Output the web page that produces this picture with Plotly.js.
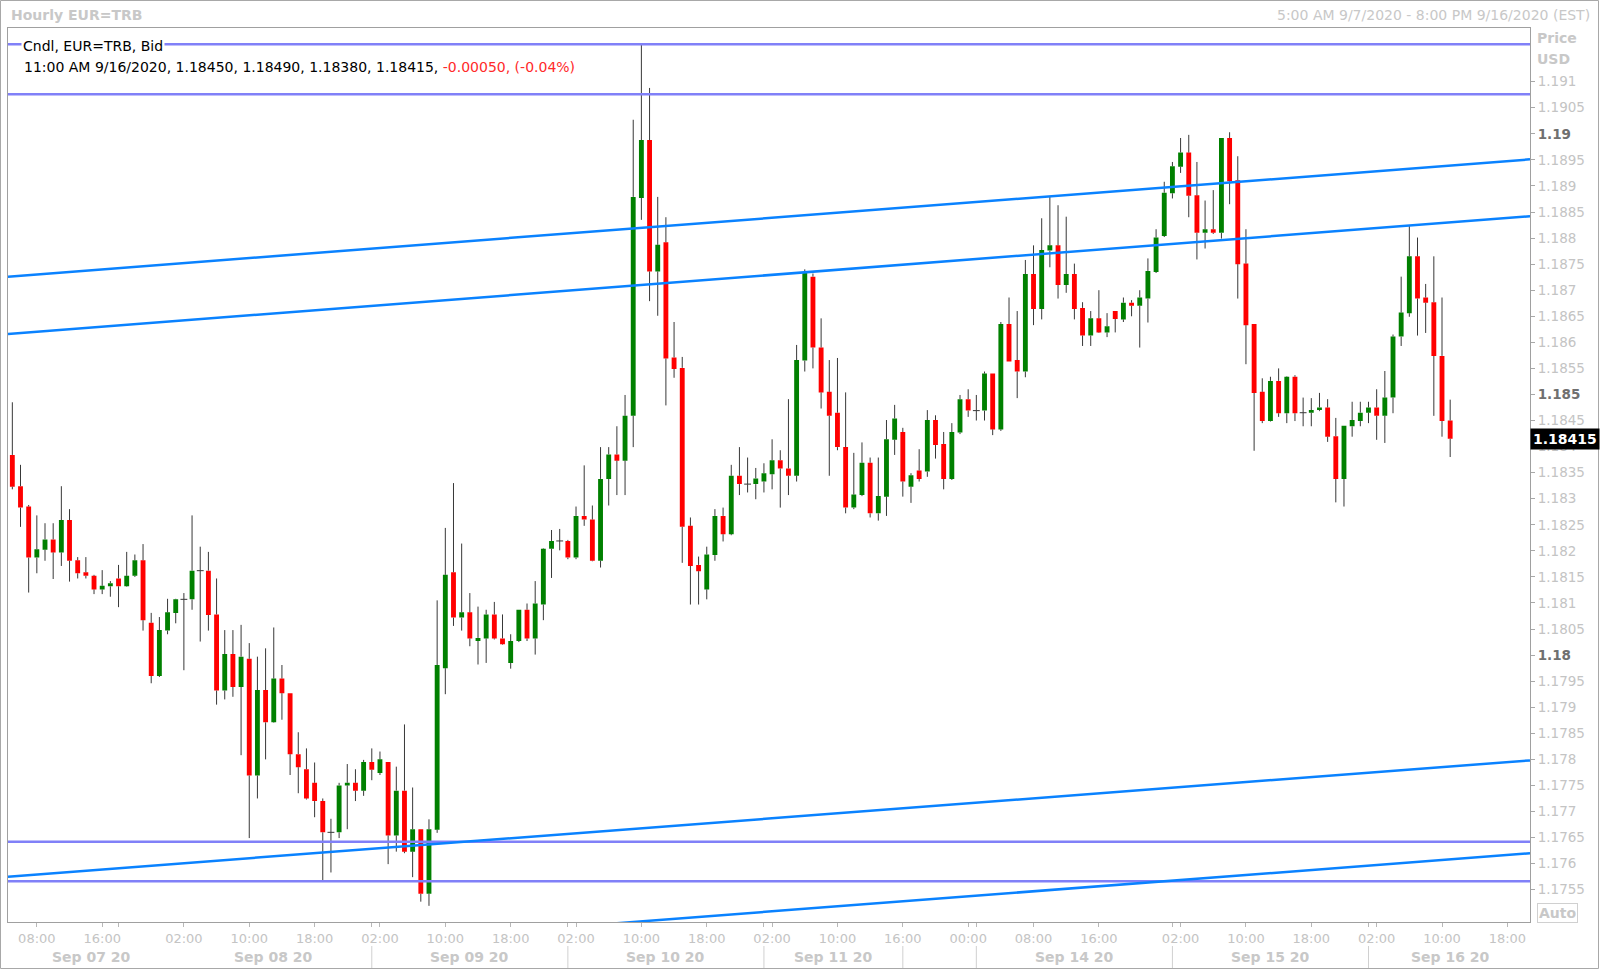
<!DOCTYPE html>
<html>
<head>
<meta charset="utf-8">
<script src="https://cdn.plot.ly/plotly-3.0.1.min.js"></script>
<style>
  html, body { margin: 0; padding: 0; background: #ffffff; }
  #chart { width: 1600px; height: 970px; }
</style>
</head>
<body>
<div id="chart"></div>
<script>
// ---------------- DATA (hourly candles from 5:00 AM 9/7/2020, EST) ----------------
const openP = [
1.18384,1.18324,1.18285,1.18187,1.18202,1.18222,1.18197,1.18259,1.18182,1.18159,
1.18152,1.18126,1.18132,1.18147,1.18132,1.18152,1.18182,1.18062,1.17960,1.18047,
1.18081,1.18107,1.18107,1.18162,1.18162,1.18078,1.17932,1.18002,1.17939,1.17993,
1.17769,1.17933,1.17871,1.17955,1.17927,1.17810,1.17781,1.17755,1.17720,1.17660,
1.17660,1.17750,1.17755,1.17740,1.17795,1.17774,1.17795,1.17654,1.17740,1.17623,
1.17666,1.17542,1.17665,1.17975,1.18159,1.18072,1.18082,1.18027,1.18032,1.18078,
1.18032,1.17985,1.18027,1.18087,1.18032,1.18097,1.18204,1.18219,1.18219,1.18187,
1.18267,1.18260,1.18181,1.18338,1.18385,1.18373,1.18459,1.18877,1.18988,1.18736,
1.18792,1.18571,1.18551,1.18248,1.18173,1.18126,1.18192,1.18267,1.18232,1.18344,
1.18328,1.18328,1.18333,1.18347,1.18374,1.18358,1.18344,1.18565,1.18726,1.18590,
1.18505,1.18465,1.18399,1.18283,1.18307,1.18369,1.18272,1.18304,1.18413,1.18428,
1.18323,1.18354,1.18352,1.18451,1.18405,1.18338,1.18427,1.18491,1.18469,1.18469,
1.18540,1.18433,1.18635,1.18566,1.18544,1.18731,1.18664,1.18776,1.18786,1.18710,
1.18731,1.18666,1.18613,1.18646,1.18619,1.18660,1.18644,1.18676,1.18670,1.18684,
1.18735,1.18804,1.18886,1.18937,1.18964,1.18882,1.18810,1.18817,1.18810,1.18992,
1.18911,1.18751,1.18635,1.18505,1.18449,1.18526,1.18464,1.18534,1.18465,1.18465,
1.18470,1.18475,1.18420,1.18338,1.18439,1.18449,1.18465,1.18475,1.18459,1.18494,
1.18611,1.18656,1.18765,1.18686,1.18677,1.18574,1.18450];
const highP = [
1.18485,1.18365,1.18288,1.18268,1.18253,1.18253,1.18324,1.18280,1.18188,1.18188,
1.18154,1.18163,1.18142,1.18173,1.18198,1.18193,1.18213,1.18081,1.18073,1.18108,
1.18108,1.18119,1.18268,1.18208,1.18198,1.18147,1.18048,1.18048,1.18058,1.18023,
1.17997,1.18013,1.18053,1.17981,1.17927,1.17852,1.17821,1.17794,1.17725,1.17686,
1.17755,1.17791,1.17781,1.17799,1.17821,1.17815,1.17795,1.17786,1.17867,1.17746,
1.17666,1.17685,1.18105,1.18244,1.18330,1.18214,1.18119,1.18093,1.18087,1.18102,
1.18078,1.18040,1.18087,1.18099,1.18142,1.18205,1.18240,1.18242,1.18221,1.18285,
1.18364,1.18287,1.18399,1.18399,1.18439,1.18499,1.19027,1.19172,1.19088,1.18879,
1.18840,1.18639,1.18572,1.18264,1.18189,1.18208,1.18280,1.18283,1.18365,1.18399,
1.18379,1.18359,1.18368,1.18414,1.18393,1.18491,1.18595,1.18740,1.18732,1.18646,
1.18566,1.18570,1.18504,1.18388,1.18408,1.18379,1.18379,1.18451,1.18480,1.18436,
1.18349,1.18395,1.18470,1.18460,1.18428,1.18445,1.18499,1.18510,1.18499,1.18544,
1.18540,1.18639,1.18686,1.18660,1.18758,1.18786,1.18838,1.18879,1.18863,1.18841,
1.18751,1.18677,1.18660,1.18700,1.18656,1.18660,1.18686,1.18681,1.18700,1.18761,
1.18817,1.18908,1.18946,1.18992,1.18998,1.18946,1.18872,1.18892,1.18992,1.19003,
1.18957,1.18817,1.18635,1.18531,1.18534,1.18550,1.18535,1.18537,1.18494,1.18493,
1.18503,1.18491,1.18455,1.18440,1.18486,1.18486,1.18486,1.18510,1.18545,1.18615,
1.18726,1.18823,1.18801,1.18712,1.18765,1.18686,1.18490];
const lowP = [
1.18318,1.18246,1.18120,1.18157,1.18181,1.18146,1.18171,1.18141,1.18147,1.18147,
1.18117,1.18117,1.18112,1.18092,1.18131,1.18150,1.18047,1.17946,1.17958,1.18040,
1.18061,1.17971,1.18087,1.18026,1.18047,1.17905,1.17915,1.17920,1.17808,1.17649,
1.17725,1.17800,1.17870,1.17876,1.17770,1.17735,1.17723,1.17689,1.17567,1.17583,
1.17649,1.17666,1.17720,1.17730,1.17760,1.17770,1.17599,1.17623,1.17620,1.17574,
1.17527,1.17519,1.17659,1.17925,1.18056,1.18047,1.18017,1.17982,1.17985,1.18030,
1.18020,1.17974,1.18025,1.18027,1.18001,1.18067,1.18148,1.18201,1.18184,1.18184,
1.18248,1.18180,1.18168,1.18287,1.18307,1.18307,1.18399,1.18835,1.18679,1.18651,
1.18479,1.18532,1.18177,1.18097,1.18097,1.18107,1.18181,1.18218,1.18230,1.18307,
1.18312,1.18299,1.18312,1.18318,1.18283,1.18307,1.18333,1.18544,1.18550,1.18473,
1.18344,1.18393,1.18272,1.18280,1.18305,1.18264,1.18258,1.18267,1.18384,1.18304,
1.18292,1.18333,1.18342,1.18377,1.18318,1.18336,1.18424,1.18457,1.18450,1.18450,
1.18422,1.18430,1.18563,1.18493,1.18533,1.18633,1.18644,1.18744,1.18684,1.18695,
1.18644,1.18593,1.18593,1.18618,1.18610,1.18619,1.18639,1.18650,1.18590,1.18638,
1.18733,1.18802,1.18876,1.18925,1.18840,1.18759,1.18780,1.18808,1.18799,1.18865,
1.18684,1.18558,1.18392,1.18445,1.18448,1.18457,1.18445,1.18449,1.18439,1.18439,
1.18468,1.18409,1.18293,1.18285,1.18419,1.18439,1.18445,1.18413,1.18407,1.18464,
1.18593,1.18649,1.18613,1.18618,1.18459,1.18419,1.18380];
const closeP = [
1.18323,1.18283,1.18187,1.18203,1.18222,1.18197,1.18259,1.18181,1.18157,1.18152,
1.18126,1.18133,1.18138,1.18132,1.18152,1.18182,1.18067,1.17960,1.18048,1.18082,
1.18107,1.18107,1.18162,1.18162,1.18077,1.17932,1.18002,1.17939,1.17997,1.17769,
1.17933,1.17871,1.17955,1.17927,1.17810,1.17785,1.17725,1.17720,1.17660,1.17660,
1.17750,1.17755,1.17740,1.17795,1.17780,1.17800,1.17654,1.17740,1.17623,1.17666,
1.17542,1.17666,1.17981,1.18154,1.18072,1.18082,1.18032,1.18033,1.18078,1.18032,
1.18021,1.18027,1.18087,1.18032,1.18099,1.18204,1.18219,1.18219,1.18187,1.18267,
1.18260,1.18181,1.18338,1.18385,1.18373,1.18459,1.18879,1.18988,1.18736,1.18787,
1.18569,1.18549,1.18246,1.18171,1.18161,1.18193,1.18267,1.18232,1.18344,1.18328,
1.18328,1.18339,1.18349,1.18374,1.18358,1.18344,1.18566,1.18733,1.18590,1.18504,
1.18459,1.18399,1.18283,1.18308,1.18369,1.18272,1.18305,1.18414,1.18454,1.18333,
1.18345,1.18338,1.18451,1.18403,1.18338,1.18428,1.18491,1.18469,1.18469,1.18540,
1.18433,1.18635,1.18563,1.18544,1.18731,1.18664,1.18777,1.18786,1.18710,1.18731,
1.18664,1.18613,1.18646,1.18619,1.18631,1.18645,1.18676,1.18670,1.18686,1.18737,
1.18801,1.18887,1.18938,1.18964,1.18881,1.18810,1.18817,1.18810,1.18992,1.18909,
1.18750,1.18633,1.18503,1.18449,1.18526,1.18464,1.18534,1.18464,1.18465,1.18470,
1.18475,1.18419,1.18338,1.18440,1.18451,1.18465,1.18475,1.18459,1.18494,1.18611,
1.18657,1.18765,1.18684,1.18676,1.18574,1.18449,1.18415];

// horizontal levels and trend channels (drawing objects)
const hLevels = [1.19172, 1.19076, 1.17642, 1.17566];
const trendX0 = [-0.53, -0.53, -0.53, -0.53];
const trendY0 = [1.18726, 1.18616, 1.17575, 1.17396];
const trendX1 = [185.77, 185.77, 185.77, 185.77];
const trendY1 = [1.18951, 1.18842, 1.17798, 1.17620];

// axis labels
const timeTickIdx = [3,11,21,29,37,45,53,61,69,77,85,93,101,109,117,125,133,143,151,159,167,175,183];
const timeTickText = ['08:00','16:00','02:00','10:00','18:00','02:00','10:00','18:00','02:00','10:00','18:00',
  '02:00','10:00','16:00','00:00','08:00','16:00','02:00','10:00','18:00','02:00','10:00','18:00'];
const extraTickIdx = [13,44,68,92,109,118,142,166];
const daySeparators = [44,68,92,109,118,142,166];
const dateLabels = ['Sep 07 20','Sep 08 20','Sep 09 20','Sep 10 20','Sep 11 20','Sep 14 20','Sep 15 20','Sep 16 20'];
const dateLabelPos = [9.7,32,56,80,100.5,130,154,176];
const priceTicks = [];
for (let k = 0; k <= 31; k++) priceTicks.push(+(1.1755 + k*0.0005).toFixed(4));
const boldPriceTicks = [1.18, 1.185, 1.19];

const lastBar = {time:'11:00 AM 9/16/2020', o:'1.18450', h:'1.18490', l:'1.18380', c:'1.18415', chg:'-0.00050', pct:'(-0.04%)'};

// ---------------- LAYOUT HELPERS ----------------
const W = 1600, H = 970;
const M = {l:8, r:70, t:28, b:48};
const PW = W - M.l - M.r, PH = H - M.t - M.b;
const px = x => (x - M.l) / PW;        // pixel -> paper x
const py = y => (H - M.b - y) / PH;    // pixel -> paper y
const FONT = 'DejaVu Sans, Verdana, sans-serif';
const LIGHT = '#c4c4c4';

// candle x positions (hour slot index)
const xs = openP.map((_, i) => i);

// wick segments (outside the bodies) + doji ticks
const wx = [], wy = [];
for (let i = 0; i < xs.length; i++) {
  const top = Math.max(openP[i], closeP[i]);
  const bot = Math.min(openP[i], closeP[i]);
  if (highP[i] > top) { wx.push(i, i, null); wy.push(highP[i], top, null); }
  if (lowP[i] < bot)  { wx.push(i, i, null); wy.push(bot, lowP[i], null); }
  if (openP[i] === closeP[i]) { wx.push(i - 0.42, i + 0.42, null); wy.push(openP[i], openP[i], null); }
}

const traces = [
  {
    type: 'candlestick', x: xs, open: openP, high: highP, low: lowP, close: closeP,
    increasing: {line: {color: '#008000', width: 0}, fillcolor: '#008000'},
    decreasing: {line: {color: '#ff0000', width: 0}, fillcolor: '#ff0000'},
    hoverinfo: 'skip', showlegend: false
  },
  {
    type: 'scatter', mode: 'lines', x: wx, y: wy,
    line: {color: '#383838', width: 1}, hoverinfo: 'skip', showlegend: false, connectgaps: false
  }
];

const shapes = [];
// outer frame
shapes.push({type:'rect', xref:'paper', yref:'paper', x0:px(0.5), x1:px(W-1.5), y0:py(0.5), y1:py(H-1.5),
  line:{color:'#a8a8a8', width:1}, layer:'below'});
// horizontal levels
hLevels.forEach(v => shapes.push({type:'line', xref:'paper', yref:'y', x0:0, x1:1, y0:v, y1:v,
  line:{color:'#8080f8', width:2.5}, layer:'above'}));
// trend channels
for (let k = 0; k < trendY0.length; k++) {
  shapes.push({type:'line', xref:'x', yref:'y', x0:trendX0[k], y0:trendY0[k], x1:trendX1[k], y1:trendY1[k],
    line:{color:'#0a82ff', width:2.5}, layer:'above'});
}
// day separators in the date row
daySeparators.forEach(v => shapes.push({type:'line', xref:'x', yref:'paper', x0:v, x1:v, y0:py(946), y1:py(968),
  line:{color:'#d0d0d0', width:1}}));

const annotations = [];
annotations.push({xref:'paper', yref:'paper', x:px(9), y:py(15), xanchor:'left', yanchor:'middle', showarrow:false,
  text:'<b>Hourly EUR=TRB</b>', font:{family:FONT, size:14, color:'#c8c8c8'}});
annotations.push({xref:'paper', yref:'paper', x:px(1592), y:py(15), xanchor:'right', yanchor:'middle', showarrow:false,
  text:'5:00 AM 9/7/2020 - 8:00 PM 9/16/2020 (EST)', font:{family:FONT, size:14, color:'#c8c8c8'}});
annotations.push({xref:'paper', yref:'paper', x:px(21), y:py(46), xanchor:'left', yanchor:'middle', showarrow:false,
  text:'Cndl, EUR=TRB, Bid', bgcolor:'#ffffff', borderpad:1, font:{family:FONT, size:14, color:'#000000'}});
annotations.push({xref:'paper', yref:'paper', x:px(22), y:py(67), xanchor:'left', yanchor:'middle', showarrow:false,
  text: lastBar.time + ', ' + lastBar.o + ', ' + lastBar.h + ', ' + lastBar.l + ', ' + lastBar.c + ', ' +
        '<span style="color:#ff2a2a">' + lastBar.chg + ', ' + lastBar.pct + '</span>',
  font:{family:FONT, size:14, color:'#000000'}});
annotations.push({xref:'paper', yref:'paper', x:px(1535), y:py(38), xanchor:'left', yanchor:'middle', showarrow:false,
  text:'<b>Price</b>', font:{family:FONT, size:14, color:'#c8c8c8'}});
annotations.push({xref:'paper', yref:'paper', x:px(1535), y:py(59), xanchor:'left', yanchor:'middle', showarrow:false,
  text:'<b>USD</b>', font:{family:FONT, size:14, color:'#c8c8c8'}});
annotations.push({xref:'paper', yref:'y', x:px(1530), y:closeP[closeP.length-1], xanchor:'left', yanchor:'middle', showarrow:false,
  text:'<b>' + lastBar.c + '</b>', bgcolor:'#000000', borderpad:2, font:{family:FONT, size:14, color:'#ffffff'}});
annotations.push({xref:'paper', yref:'paper', x:px(1537), y:py(913), xanchor:'left', yanchor:'middle', showarrow:false,
  text:'<b>Auto</b>', bordercolor:'#d0d0d0', borderwidth:1, borderpad:1, font:{family:FONT, size:14, color:'#c8c8c8'}});
dateLabels.forEach((t, k) => annotations.push({xref:'x', yref:'paper', x:dateLabelPos[k], y:py(957),
  xanchor:'center', yanchor:'middle', showarrow:false, text:'<b>' + t + '</b>', font:{family:FONT, size:14, color:'#c8c8c8'}}));

const xTickVals = timeTickIdx.concat(extraTickIdx);
const xTickText = timeTickText.concat(extraTickIdx.map(() => ''));
const yTickText = priceTicks.map(v => boldPriceTicks.some(b => Math.abs(b - v) < 1e-9)
  ? '<b><span style="color:#707070">' + String(v) + '</span></b>' : String(v));

const layout = {
  width: W, height: H,
  margin: M,
  paper_bgcolor: '#ffffff', plot_bgcolor: '#ffffff',
  showlegend: false,
  boxgap: 0.15,
  xaxis: {
    range: [-0.53, 185.77], fixedrange: true, rangeslider: {visible: false},
    tickmode: 'array', tickvals: xTickVals, ticktext: xTickText,
    ticks: 'outside', ticklen: 4, tickcolor: '#b8b8b8', tickwidth: 1,
    tickfont: {family: FONT, size: 13, color: LIGHT},
    showgrid: false, zeroline: false, showline: true, mirror: true, linecolor: '#a0a0a0', linewidth: 1
  },
  yaxis: {
    range: [1.17488, 1.19203], fixedrange: true, side: 'right',
    tickmode: 'array', tickvals: priceTicks, ticktext: yTickText,
    ticks: 'outside', ticklen: 4, tickcolor: '#a8a8a8', tickwidth: 1,
    tickfont: {family: FONT, size: 13.5, color: LIGHT},
    showgrid: false, zeroline: false, showline: true, mirror: true, linecolor: '#a0a0a0', linewidth: 1
  },
  shapes: shapes,
  annotations: annotations
};

Plotly.newPlot('chart', traces, layout, {displayModeBar: false, staticPlot: true});
</script>
</body>
</html>
